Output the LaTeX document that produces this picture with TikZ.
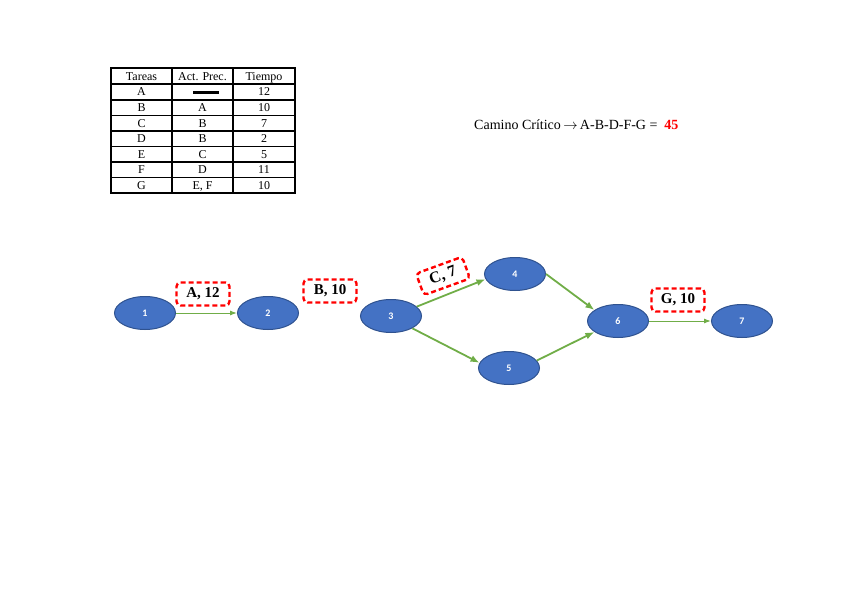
\documentclass[tikz,border=0pt]{standalone}
\usepackage{fontspec}
\setmainfont{Liberation Serif}
\newfontfamily\numfont{Carlito}
\usepackage{tikz}
\usetikzlibrary{positioning,arrows.meta,shapes.geometric}
\definecolor{NodoAzul}{HTML}{4472C4}
\definecolor{BordeAzul}{HTML}{2F528F}
\definecolor{FlechaVerde}{HTML}{70AD47}
\definecolor{CritRojo}{HTML}{FF0000}

\begin{document}
\begin{tikzpicture}[x=1pt,y=-1pt,
  evento/.style={ellipse,fill=NodoAzul,draw=BordeAzul,line width=1pt,minimum width=61pt,minimum height=33pt,inner sep=0pt,font=\numfont\bfseries\fontsize{10}{11}\selectfont,text=white},
  etiqueta/.style={draw=CritRojo,dash pattern=on 5pt off 3pt,line width=2.4pt,rounded corners=4pt,minimum width=53pt,minimum height=23pt,inner sep=1pt,font=\bfseries\fontsize{15}{16}\selectfont},
  celda/.style={inner sep=0pt,text height=8pt,text depth=2.5pt,font=\fontsize{12}{13}\selectfont},
  flecha/.style={draw=FlechaVerde,line width=1.8pt,-{Latex[length=9pt,width=7pt]}}]
  \useasboundingbox (0,0) rectangle (848,599);

  % tabla de tareas
  \draw[line width=2.2pt] (111,68) rectangle (295,193);
  \foreach \xx in {172,233}
    \draw[line width=1.3pt] (\xx,68) -- (\xx,193);
  \foreach \yy in {84,100,115.5,131,146.5,162,177.5}
    \draw[line width=1.3pt] (111,\yy) -- (295,\yy);
  \node[celda] (hTareas) at (141.5,77.5) {Tareas};
  \node[celda] (hPrec) at (202.5,77.5) {Act. Prec.};
  \node[celda] (hTiempo) at (264,77.5) {Tiempo};
  \foreach \i/\tar/\pre/\dur in {1/A//12, 2/B/A/10, 3/C/B/7, 4/D/B/2, 5/E/C/5, 6/F/D/11, 7/G/{E, F}/10}{
    \node[celda] (t\i) at (141.5,77.5+\i*15.6) {\tar};
    \node[celda] (p\i) at (202.5,77.5+\i*15.6) {\pre};
    \node[celda] (d\i) at (264,77.5+\i*15.6) {\dur};
  }
  \draw[line width=3pt] (193,92.5) -- (219,92.5);

  % camino critico
  \node[anchor=west,inner sep=0pt,font=\fontsize{14}{15}\selectfont] (camino) at (474,125)
    {Camino Crítico\,$\rightarrow$\,A-B-D-F-G = \ \textcolor{CritRojo}{\textbf{45}}};

  % red de actividades
  \foreach \i/\px/\py in {1/145/313, 2/268/313, 3/391/316, 4/515/274, 5/509/368, 6/618/321, 7/742/321}
    \node[evento] (n\i) at (\px,\py) {\i};

  \draw[flecha,line width=1pt,-{Latex[length=7pt,width=5pt]}] (n1) -- (n2);
  \draw[flecha] (n3.20) -- (n4.190);
  \draw[flecha] (n3.-30) -- (n5.170);
  \draw[flecha] (n4.east) -- (n6.155);
  \draw[flecha] (n5.15) -- (n6.205);
  \draw[flecha,line width=1pt,-{Latex[length=7pt,width=5pt]}] (n6) -- (n7);

  \node[etiqueta] (lA) at (203,294) {A, 12};
  \node[etiqueta] (lB) at (330,291) {B, 10};
  \node[etiqueta,rotate=20,minimum width=49pt,font=\bfseries\fontsize{16}{17}\selectfont] (lC) at (443,276) {C, 7};
  \node[etiqueta] (lG) at (678,300) {G, 10};
\end{tikzpicture}
\end{document}
